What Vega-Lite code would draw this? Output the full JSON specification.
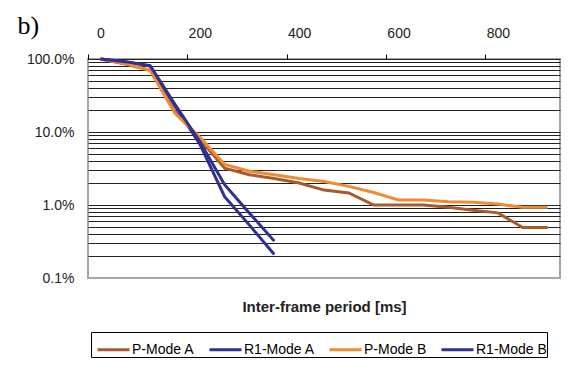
{
  "$schema": "https://vega.github.io/schema/vega-lite/v6.json",
  "width": 472,
  "height": 219,
  "autosize": {"type": "none"},
  "padding": {"left": 88, "top": 59, "right": 12, "bottom": 91},
  "background": "white",
  "config": {
    "view": {"stroke": "#a6a6a6", "strokeWidth": 2},
    "font": "Liberation Sans"
  },
  "data": {
    "values": [
      {"ms": 0, "series": "P-Mode A", "v": 1.0},
      {"ms": 50, "series": "P-Mode A", "v": 0.85},
      {"ms": 100, "series": "P-Mode A", "v": 0.70},
      {"ms": 150, "series": "P-Mode A", "v": 0.19},
      {"ms": 200, "series": "P-Mode A", "v": 0.08},
      {"ms": 250, "series": "P-Mode A", "v": 0.032},
      {"ms": 300, "series": "P-Mode A", "v": 0.026},
      {"ms": 350, "series": "P-Mode A", "v": 0.023},
      {"ms": 400, "series": "P-Mode A", "v": 0.020},
      {"ms": 450, "series": "P-Mode A", "v": 0.016},
      {"ms": 500, "series": "P-Mode A", "v": 0.0146},
      {"ms": 550, "series": "P-Mode A", "v": 0.010},
      {"ms": 600, "series": "P-Mode A", "v": 0.010},
      {"ms": 650, "series": "P-Mode A", "v": 0.010},
      {"ms": 700, "series": "P-Mode A", "v": 0.0093},
      {"ms": 750, "series": "P-Mode A", "v": 0.0085},
      {"ms": 800, "series": "P-Mode A", "v": 0.0078},
      {"ms": 850, "series": "P-Mode A", "v": 0.0049},
      {"ms": 900, "series": "P-Mode A", "v": 0.0049},
      {"ms": 0, "series": "R1-Mode A", "v": 1.0},
      {"ms": 50, "series": "R1-Mode A", "v": 0.92},
      {"ms": 100, "series": "R1-Mode A", "v": 0.80},
      {"ms": 150, "series": "R1-Mode A", "v": 0.23},
      {"ms": 200, "series": "R1-Mode A", "v": 0.068},
      {"ms": 250, "series": "R1-Mode A", "v": 0.013},
      {"ms": 300, "series": "R1-Mode A", "v": 0.0053},
      {"ms": 350, "series": "R1-Mode A", "v": 0.0021},
      {"ms": 0, "series": "P-Mode B", "v": 1.0},
      {"ms": 50, "series": "P-Mode B", "v": 0.87},
      {"ms": 100, "series": "P-Mode B", "v": 0.70},
      {"ms": 150, "series": "P-Mode B", "v": 0.18},
      {"ms": 200, "series": "P-Mode B", "v": 0.085},
      {"ms": 250, "series": "P-Mode B", "v": 0.036},
      {"ms": 300, "series": "P-Mode B", "v": 0.029},
      {"ms": 350, "series": "P-Mode B", "v": 0.026},
      {"ms": 400, "series": "P-Mode B", "v": 0.023},
      {"ms": 450, "series": "P-Mode B", "v": 0.021},
      {"ms": 500, "series": "P-Mode B", "v": 0.018},
      {"ms": 550, "series": "P-Mode B", "v": 0.0148},
      {"ms": 600, "series": "P-Mode B", "v": 0.0117},
      {"ms": 650, "series": "P-Mode B", "v": 0.0117},
      {"ms": 700, "series": "P-Mode B", "v": 0.0111},
      {"ms": 750, "series": "P-Mode B", "v": 0.0109},
      {"ms": 800, "series": "P-Mode B", "v": 0.0103},
      {"ms": 850, "series": "P-Mode B", "v": 0.0093},
      {"ms": 900, "series": "P-Mode B", "v": 0.0093},
      {"ms": 0, "series": "R1-Mode B", "v": 1.0},
      {"ms": 50, "series": "R1-Mode B", "v": 0.92},
      {"ms": 100, "series": "R1-Mode B", "v": 0.81},
      {"ms": 150, "series": "R1-Mode B", "v": 0.24},
      {"ms": 200, "series": "R1-Mode B", "v": 0.074},
      {"ms": 250, "series": "R1-Mode B", "v": 0.019},
      {"ms": 300, "series": "R1-Mode B", "v": 0.0077},
      {"ms": 350, "series": "R1-Mode B", "v": 0.0032}
    ]
  },
  "mark": {"type": "line", "strokeWidth": 3, "strokeJoin": "miter"},
  "encoding": {
    "x": {
      "field": "ms",
      "type": "quantitative",
      "scale": {"domain": [-25, 925], "nice": false, "zero": false},
      "axis": {
        "orient": "top",
        "values": [-25, 0, 175, 200, 375, 400, 575, 600, 775, 800],
        "labelExpr": "datum.value % 200 == 0 ? datum.label : ''",
        "labelOverlap": false,
        "labelFontSize": 14,
        "labelColor": "#222",
        "labelPadding": 14,
        "tickSize": 5,
        "tickColor": "#000",
        "tickOpacity": {"condition": {"test": "datum.value % 200 == 0", "value": 0}, "value": 1},
        "domain": false,
        "grid": false,
        "title": "Inter-frame period [ms]",
        "titleX": 236,
        "titleY": 252,
        "titleAlign": "center",
        "titleBaseline": "alphabetic",
        "titleFontSize": 15,
        "titleFontWeight": "bold",
        "titleColor": "#222"
      }
    },
    "y": {
      "field": "v",
      "type": "quantitative",
      "scale": {"type": "log", "domain": [0.001, 1], "nice": false},
      "axis": {
        "values": [0.001, 0.002, 0.003, 0.004, 0.005, 0.006, 0.007, 0.008, 0.009,
                   0.01, 0.02, 0.03, 0.04, 0.05, 0.06, 0.07, 0.08, 0.09,
                   0.1, 0.2, 0.3, 0.4, 0.5, 0.6, 0.7, 0.8, 0.9, 1],
        "format": ".1%",
        "labelExpr": "(datum.value == 0.001 || datum.value == 0.01 || datum.value == 0.1 || datum.value == 1) ? datum.label : ''",
        "labelOverlap": false,
        "labelFontSize": 14,
        "labelColor": "#222",
        "labelPadding": 14,
        "ticks": false,
        "domain": false,
        "grid": true,
        "gridColor": {"condition": {"test": "datum.value == 0.001", "value": "#a6a6a6"}, "value": "#222"},
        "gridWidth": 1,
        "gridOpacity": 1,
        "title": "b)",
        "titleAngle": 0,
        "titleX": -71,
        "titleY": -26,
        "titleAlign": "left",
        "titleBaseline": "alphabetic",
        "titleFont": "Liberation Serif",
        "titleFontSize": 26,
        "titleFontWeight": "normal",
        "titleColor": "#000"
      }
    },
    "color": {
      "field": "series",
      "type": "nominal",
      "scale": {
        "domain": ["P-Mode A", "R1-Mode A", "P-Mode B", "R1-Mode B"],
        "range": ["#a85a2c", "#2e3192", "#f28a30", "#2e3192"]
      },
      "legend": {
        "orient": "none",
        "legendX": 3,
        "legendY": 273,
        "direction": "horizontal",
        "columns": 4,
        "title": null,
        "strokeColor": "#000",
        "fillColor": "#fff",
        "padding": 0,
        "symbolOffset": 5,
        "symbolType": "stroke",
        "symbolSize": 1024,
        "symbolStrokeWidth": 3,
        "labelFontSize": 14,
        "labelFont": "Liberation Sans",
        "labelColor": "#000",
        "labelOffset": 1,
        "columnPadding": 8
      }
    }
  }
}
